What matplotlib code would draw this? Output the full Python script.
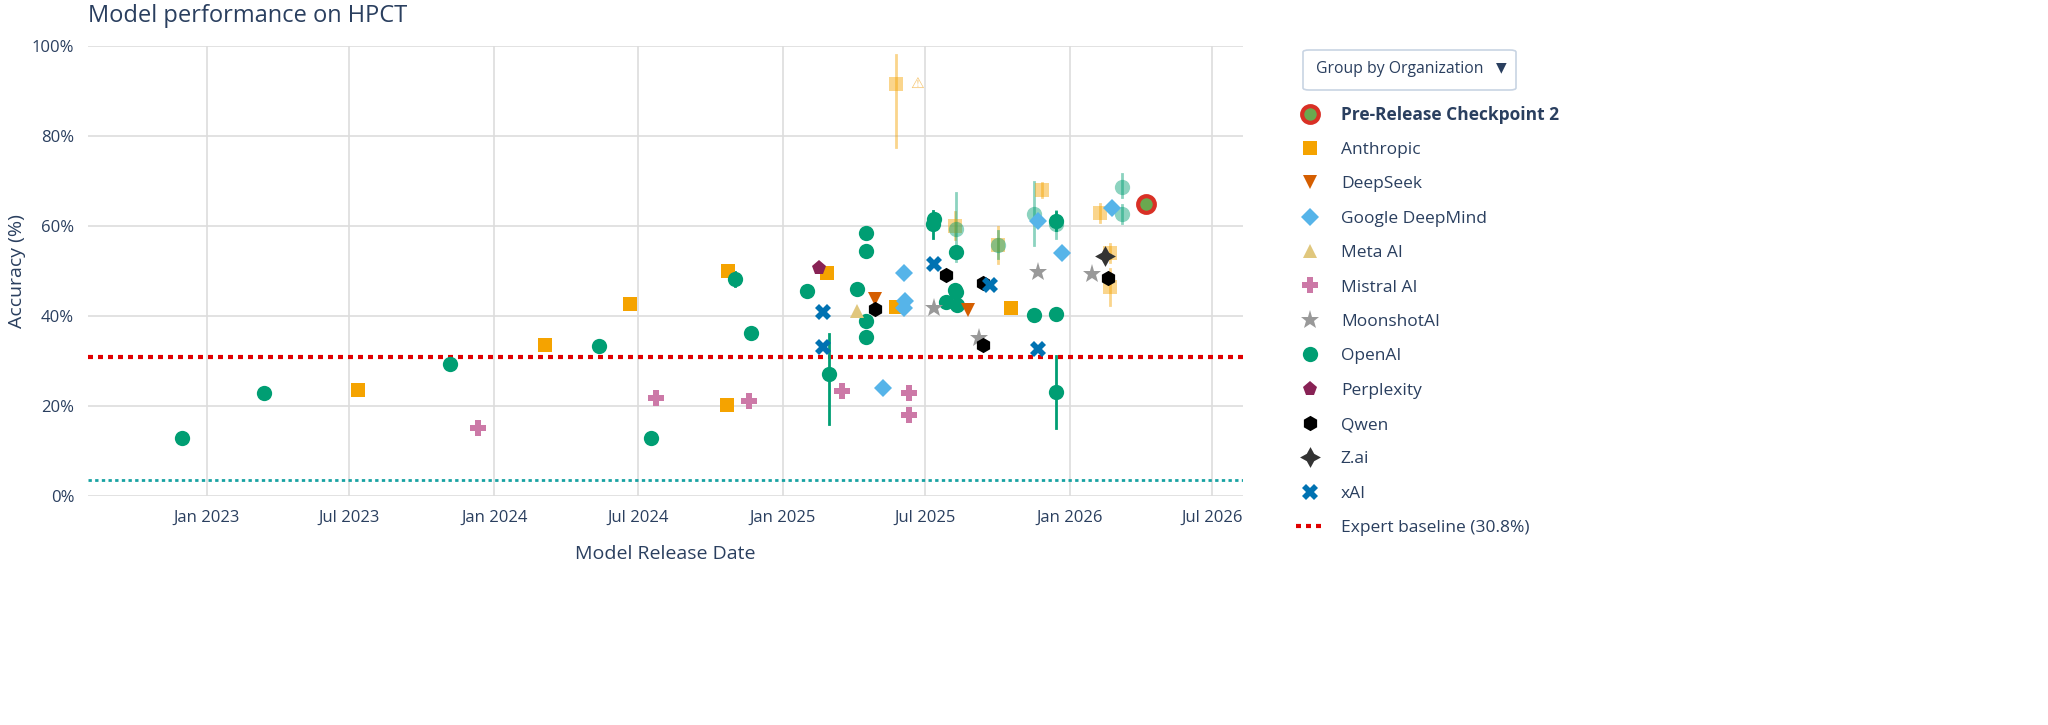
import matplotlib
matplotlib.use("Agg")
import matplotlib.pyplot as plt
from matplotlib.lines import Line2D
from matplotlib.patches import FancyBboxPatch
import numpy as np

plt.rcParams['font.family'] = ['Open Sans', 'DejaVu Sans']
TXT = '#2a3f5f'

openai_dates = ['2022-11-30','2023-03-15','2023-11-06','2024-05-13','2024-07-18','2024-11-02','2024-11-22','2025-02-01',
                '2025-03-01','2025-04-05','2025-04-17','2025-04-17','2025-04-17','2025-04-17','2025-07-13','2025-07-11',
                '2025-07-27','2025-08-08','2025-08-09','2025-08-09','2025-08-10','2025-08-09','2025-10-02','2025-11-16',
                '2025-11-16','2025-12-14','2025-12-14','2025-12-14','2025-12-14','2026-03-08','2026-03-08']
openai_vals = [12.8,22.9,29.3,33.4,12.8,48.2,36.2,45.6,
               27.0,46.0,38.8,35.2,58.3,54.5,61.4,60.3,
               43.0,45.8,45.2,54.2,42.5,59.2,55.8,40.1,
               62.7,60.3,61.0,40.5,23.0,68.5,62.6]
openai_lo = [0,0,0,1,0,1.5,0,0, 11,0,1,0,1,0,1.5,3, 0,0,0,0,0,7,3,1, 7,3,2,0,8,2,2]
openai_hi = [0,0,0,1,0,1.5,0,0, 9,0,1,0,1,0,1.5,3, 0,0,0,0,0,8,3,1, 7,3,2,0,8,3,2]
openai_fade = [0,0,0,0,0,0,0,0, 0,0,0,0,0,0,0,0, 0,0,0,0,0,1,1,0, 1,1,0,0,0,1,1]

anth_dates = ['2023-07-12','2024-03-05','2024-06-21','2024-10-24','2024-10-22','2025-02-26','2025-05-25','2025-05-25',
              '2025-08-08','2025-10-02','2025-10-18','2025-11-26','2026-02-08','2026-02-21','2026-02-21']
anth_vals = [23.6,33.6,42.7,50.0,20.3,49.5,42.0,91.5,60.0,55.8,41.7,68.0,62.8,54.0,46.4]
anth_lo = [0.6,0,0,0,0.6,0,0,14,3,4,1,1.5,2,2,4]
anth_hi = [0.6,0,0,0,0.6,0,0,6.5,3,4,1,1.5,2,2,4]
anth_fade = [0,0,0,0,0,0,0,1,1,1,0,1,1,1,1]

ds_dates = ['2025-04-28','2025-08-24']
ds_vals = [43.8,41.3]
gdm_dates = ['2025-05-08','2025-06-05','2025-06-04','2025-06-04','2025-11-22','2025-12-22','2026-02-23']
gdm_vals = [24.0,43.3,49.5,41.8,61.0,54.0,64.0]
meta_dates = ['2025-04-05']
meta_vals = [41.0]
mis_dates = ['2023-12-11','2024-07-24','2024-11-19','2025-03-18','2025-06-11','2025-06-11']
mis_vals = [15.0,21.8,21.0,23.2,22.8,18.0]
moon_dates = ['2025-07-13','2025-09-08','2025-11-22','2026-01-29']
moon_vals = [41.8,35.0,49.8,49.3]
perp_dates = ['2025-02-16']
perp_vals = [50.6]
qwen_dates = ['2025-04-29','2025-07-27','2025-09-12','2025-09-12','2026-02-18']
qwen_vals = [41.5,49.0,47.2,33.5,48.3]
zai_dates = ['2026-02-15']
zai_vals = [53.2]
xai_dates = ['2025-02-21','2025-02-21','2025-07-13','2025-09-21','2025-11-22']
xai_vals = [40.8,33.0,51.4,46.8,32.7]
pre_dates = ['2026-04-07']
pre_vals = [64.8]
expert_baseline = 30.8
other_baseline = 3.6

def D(lst):
    return [np.datetime64(d) for d in lst]

fig = plt.figure(figsize=(20.48, 7.25), dpi=100)
ax = fig.add_axes([0.043, 0.316, 0.564, 0.621])

for s in ax.spines.values():
    s.set_visible(False)
ax.grid(True, color='#dddddd', lw=1.2)
ax.set_axisbelow(True)

ax.axhline(expert_baseline, color='#e00000', ls=(0, (1.2, 1.2)), lw=3, zorder=1)
ax.axhline(other_baseline, color='#17a2a2', ls=(0, (1.2, 1.2)), lw=2, zorder=1)

def plot_err(dates, vals, lo, hi, fade, color, marker, ms):
    for d, v, l, h, f in zip(D(dates), vals, lo, hi, fade):
        a = 0.45 if f else 1.0
        if l or h:
            ax.plot([d, d], [v - l, v + h], color=color, lw=2, alpha=a, zorder=2)
        ax.plot([d], [v], marker=marker, color=color, ms=ms, alpha=a, ls='none', mew=0, zorder=3)

plot_err(anth_dates, anth_vals, anth_lo, anth_hi, anth_fade, '#F5A300', 's', 10)
plot_err(openai_dates, openai_vals, openai_lo, openai_hi, openai_fade, '#009E73', 'o', 11)

def plot_simple(dates, vals, color, marker, ms, mew=0):
    ax.plot(D(dates), vals, marker=marker, color=color, ms=ms, ls='none', mew=mew, zorder=4)

plot_simple(ds_dates, ds_vals, '#D55E00', 'v', 10)
plot_simple(gdm_dates, gdm_vals, '#56B4E9', 'D', 9)
plot_simple(meta_dates, meta_vals, '#E0C77D', '^', 10)
plot_simple(mis_dates, mis_vals, '#CC79A7', 'P', 11)
plot_simple(moon_dates, moon_vals, '#999999', '*', 14)
plot_simple(perp_dates, perp_vals, '#882255', 'p', 11)
plot_simple(qwen_dates, qwen_vals, '#000000', 'h', 11)
plot_simple(zai_dates, zai_vals, '#333333', (4, 1, 0), 15)
plot_simple(xai_dates, xai_vals, '#0072B2', 'X', 11)
ax.plot(D(pre_dates), pre_vals, marker='o', color='#6aa84f', mec='#d93025', mew=3, ms=12, ls='none', zorder=5)

ax.text(np.datetime64('2025-06-12'), 91.5, '⚠', color='#F5C36B', fontsize=11, va='center',
        family=['DejaVu Sans'])

ax.set_ylim(0, 100)
ax.set_yticks(range(0, 101, 20))
ax.set_yticklabels([f'{v}%' for v in range(0, 101, 20)])
ax.set_xlim(np.datetime64('2022-08-03'), np.datetime64('2026-08-09'))
ticks = ['2023-01-01','2023-07-01','2024-01-01','2024-07-01','2025-01-01','2025-07-01','2026-01-01','2026-07-01']
ax.set_xticks(D(ticks))
ax.set_xticklabels(['Jan 2023','Jul 2023','Jan 2024','Jul 2024','Jan 2025','Jul 2025','Jan 2026','Jul 2026'])
ax.tick_params(length=0, labelsize=12, colors=TXT, pad=10)
ax.set_xlabel('Model Release Date', fontsize=14, color=TXT, labelpad=14)
ax.set_ylabel('Accuracy (%)', fontsize=14, color=TXT, labelpad=4)
fig.text(88/2048, 1 - 16/725, 'Model performance on HPCT', fontsize=17, color=TXT, va='center')

fig.patches.append(FancyBboxPatch((1303/2048, 1 - 90/725), 213/2048, 40/725, boxstyle='round,pad=0,rounding_size=0.003',
                                  transform=fig.transFigure, fc='white', ec='#c8d4e3', lw=1.2))
fig.text(1316/2048, 1 - 69/725, 'Group by Organization', fontsize=11.3, color=TXT, va='center')
fig.text(1501/2048, 1 - 67/725, '▼', fontsize=10, color=TXT, va='center', ha='center', family=['DejaVu Sans'])

handles = [
    Line2D([], [], marker='o', color='#6aa84f', mec='#d93025', mew=3, ms=12, ls='none'),
    Line2D([], [], marker='s', color='#F5A300', ms=10, ls='none', mew=0),
    Line2D([], [], marker='v', color='#D55E00', ms=10, ls='none', mew=0),
    Line2D([], [], marker='D', color='#56B4E9', ms=9, ls='none', mew=0),
    Line2D([], [], marker='^', color='#E0C77D', ms=10, ls='none', mew=0),
    Line2D([], [], marker='P', color='#CC79A7', ms=11, ls='none', mew=0),
    Line2D([], [], marker='*', color='#999999', ms=14, ls='none', mew=0),
    Line2D([], [], marker='o', color='#009E73', ms=11, ls='none', mew=0),
    Line2D([], [], marker='p', color='#882255', ms=11, ls='none', mew=0),
    Line2D([], [], marker='h', color='#000000', ms=11, ls='none', mew=0),
    Line2D([], [], marker=(4, 1, 0), color='#333333', ms=15, ls='none', mew=0),
    Line2D([], [], marker='X', color='#0072B2', ms=11, ls='none', mew=0),
    Line2D([], [], color='#e00000', ls=(0, (1.2, 1.2)), lw=3),
]
labels = ['Pre-Release Checkpoint 2','Anthropic','DeepSeek','Google DeepMind','Meta AI','Mistral AI','MoonshotAI',
          'OpenAI','Perplexity','Qwen','Z.ai','xAI',f'Expert baseline ({expert_baseline}%)']
leg = fig.legend(handles, labels, loc='upper left', bbox_to_anchor=(1280/2048, 1 - 90/725), frameon=False,
                 fontsize=12.5, labelspacing=1.05, handlelength=1.6, handletextpad=1.0, labelcolor=TXT)
leg.get_texts()[0].set_fontweight('bold')

fig.savefig('out.png', dpi=100, facecolor='white')
